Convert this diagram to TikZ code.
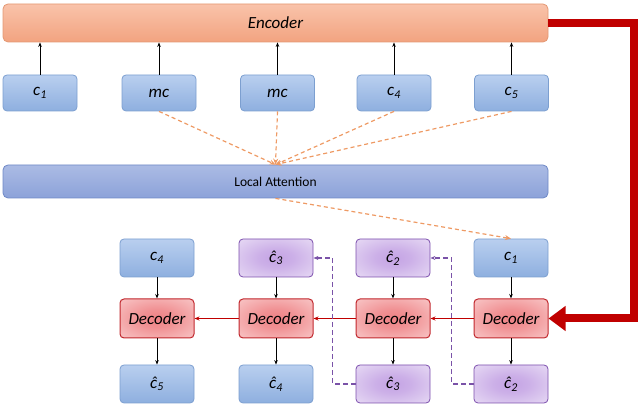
\documentclass[tikz,border=0pt]{standalone}
\usepackage{fontspec}
\setmainfont{Carlito}
\usetikzlibrary{arrows.meta}
\definecolor{blueT}{HTML}{B9CFEF}
\definecolor{blueB}{HTML}{8EAFDF}
\definecolor{blueD}{HTML}{7C9FD0}
\definecolor{orT}{HTML}{F9C3AA}
\definecolor{orB}{HTML}{F2A380}
\definecolor{orD}{HTML}{E39873}
\definecolor{laT}{HTML}{ABBBE4}
\definecolor{laB}{HTML}{8CA2D9}
\definecolor{laD}{HTML}{6E88C6}
\definecolor{puI}{HTML}{C4A3E4}
\definecolor{puO}{HTML}{EDE4F7}
\definecolor{puD}{HTML}{7C4FAD}
\definecolor{reI}{HTML}{EE8184}
\definecolor{reO}{HTML}{FAD3D3}
\definecolor{reD}{HTML}{C1272D}
\definecolor{bigred}{HTML}{C00000}
\definecolor{dashor}{HTML}{EE9A64}
\definecolor{dashpu}{HTML}{7A52A8}
\pgfdeclareradialshading{purshade}{\pgfpoint{0bp}{0bp}}{color(0bp)=(puI); color(12bp)=(puI!80!puO); color(42bp)=(puO); color(50bp)=(puO)}
\pgfdeclareradialshading{redshade}{\pgfpoint{0bp}{0bp}}{color(0bp)=(reI); color(12bp)=(reI!80!reO); color(42bp)=(reO); color(50bp)=(reO)}
\newcommand\lab[2]{\textit{#1}\textsubscript{\textit{#2}}}
\tikzset{
  base/.style={rounded corners=4pt, line width=0.8pt, minimum width=74pt, minimum height=38pt, inner sep=0pt, font=\fontsize{17}{19}\selectfont},
  bluebox/.style={base, draw=blueD, top color=blueT, bottom color=blueB},
  purplebox/.style={base, draw=puD, shading=purshade},
  decbox/.style={base, minimum height=39pt, draw=reD, line width=1pt, shading=redshade, font=\fontsize{17}{19}\selectfont\itshape},
  wide/.style={rounded corners=5pt, line width=0.8pt, minimum width=545pt, inner sep=0pt},
  blk/.style={-{Stealth[length=4.5pt,width=3.5pt]}, line width=0.8pt, black},
  redarr/.style={-{Stealth[length=5pt,width=4pt]}, line width=0.9pt, bigred},
  ordash/.style={-{Stealth[length=6pt,width=5pt]}, line width=1.2pt, dashor, dash pattern=on 4pt off 3pt},
  pudash/.style={-{Stealth[length=5pt,width=4pt]}, line width=1.2pt, dashpu, dash pattern=on 5pt off 3pt},
  bigarr/.style={-{Triangle[length=17pt,width=24pt]}, line width=8pt, bigred, line join=miter}
}
\begin{document}
\begin{tikzpicture}[x=1pt,y=-1pt]
\useasboundingbox (0,0) rectangle (640,411);
% encoder
\node[wide, minimum height=38pt, draw=orD, top color=orT, bottom color=orB, font=\fontsize{17}{19}\selectfont\itshape] (enc) at (275.5,23) {Encoder};
% top inputs
\node[bluebox, minimum height=36pt] (t1) at (40,93) {\lab{c}{1}};
\node[bluebox, minimum height=36pt] (t2) at (159,93) {\textit{mc}};
\node[bluebox, minimum height=36pt] (t3) at (277.5,93) {\textit{mc}};
\node[bluebox, minimum height=36pt] (t4) at (394,93) {\lab{c}{4}};
\node[bluebox, minimum height=36pt] (t5) at (511.5,93) {\lab{c}{5}};
\foreach \n in {t1,t2,t3,t4,t5} \draw[blk] (\n.north) -- (\n.north |- enc.south);
% local attention
\node[wide, minimum height=33pt, draw=laD, top color=laT, bottom color=laB, font=\fontsize{13.5}{16}\selectfont] (la) at (275.5,181.5) {Local Attention};
\foreach \n in {t2,t3,t4,t5} \draw[ordash] (\n.south) -- (la.north);
% bottom grid
\node[bluebox] (a1) at (157,258) {\lab{c}{4}};
\node[decbox] (d1) at (157,318.5) {Decoder};
\node[bluebox] (b1) at (157,384) {\lab{ĉ}{5}};
\node[purplebox] (a2) at (276,258) {\lab{ĉ}{3}};
\node[decbox] (d2) at (276,318.5) {Decoder};
\node[bluebox] (b2) at (276,384) {\lab{ĉ}{4}};
\node[purplebox] (a3) at (393,258) {\lab{ĉ}{2}};
\node[decbox] (d3) at (393,318.5) {Decoder};
\node[purplebox] (b3) at (393,384) {\lab{ĉ}{3}};
\node[bluebox] (a4) at (511,258) {\lab{c}{1}};
\node[decbox] (d4) at (511,318.5) {Decoder};
\node[purplebox] (b4) at (511,384) {\lab{ĉ}{2}};
\foreach \i in {1,2,3,4} {
  \draw[blk] (a\i.south) -- (d\i.north);
  \draw[blk] (d\i.south) -- (b\i.north);
}
\draw[redarr] (d4.west) -- (d3.east);
\draw[redarr] (d3.west) -- (d2.east);
\draw[redarr] (d2.west) -- (d1.east);
\draw[ordash] (la.south) -- (a4.north);
\draw[pudash] (b4.west) -- ++(-22,0) |- (a3.east);
\draw[pudash] (b3.west) -- ++(-23,0) |- (a2.east);
\draw[bigarr] (enc.east) -- ++(86,0) |- (d4.east);
\end{tikzpicture}
\end{document}
